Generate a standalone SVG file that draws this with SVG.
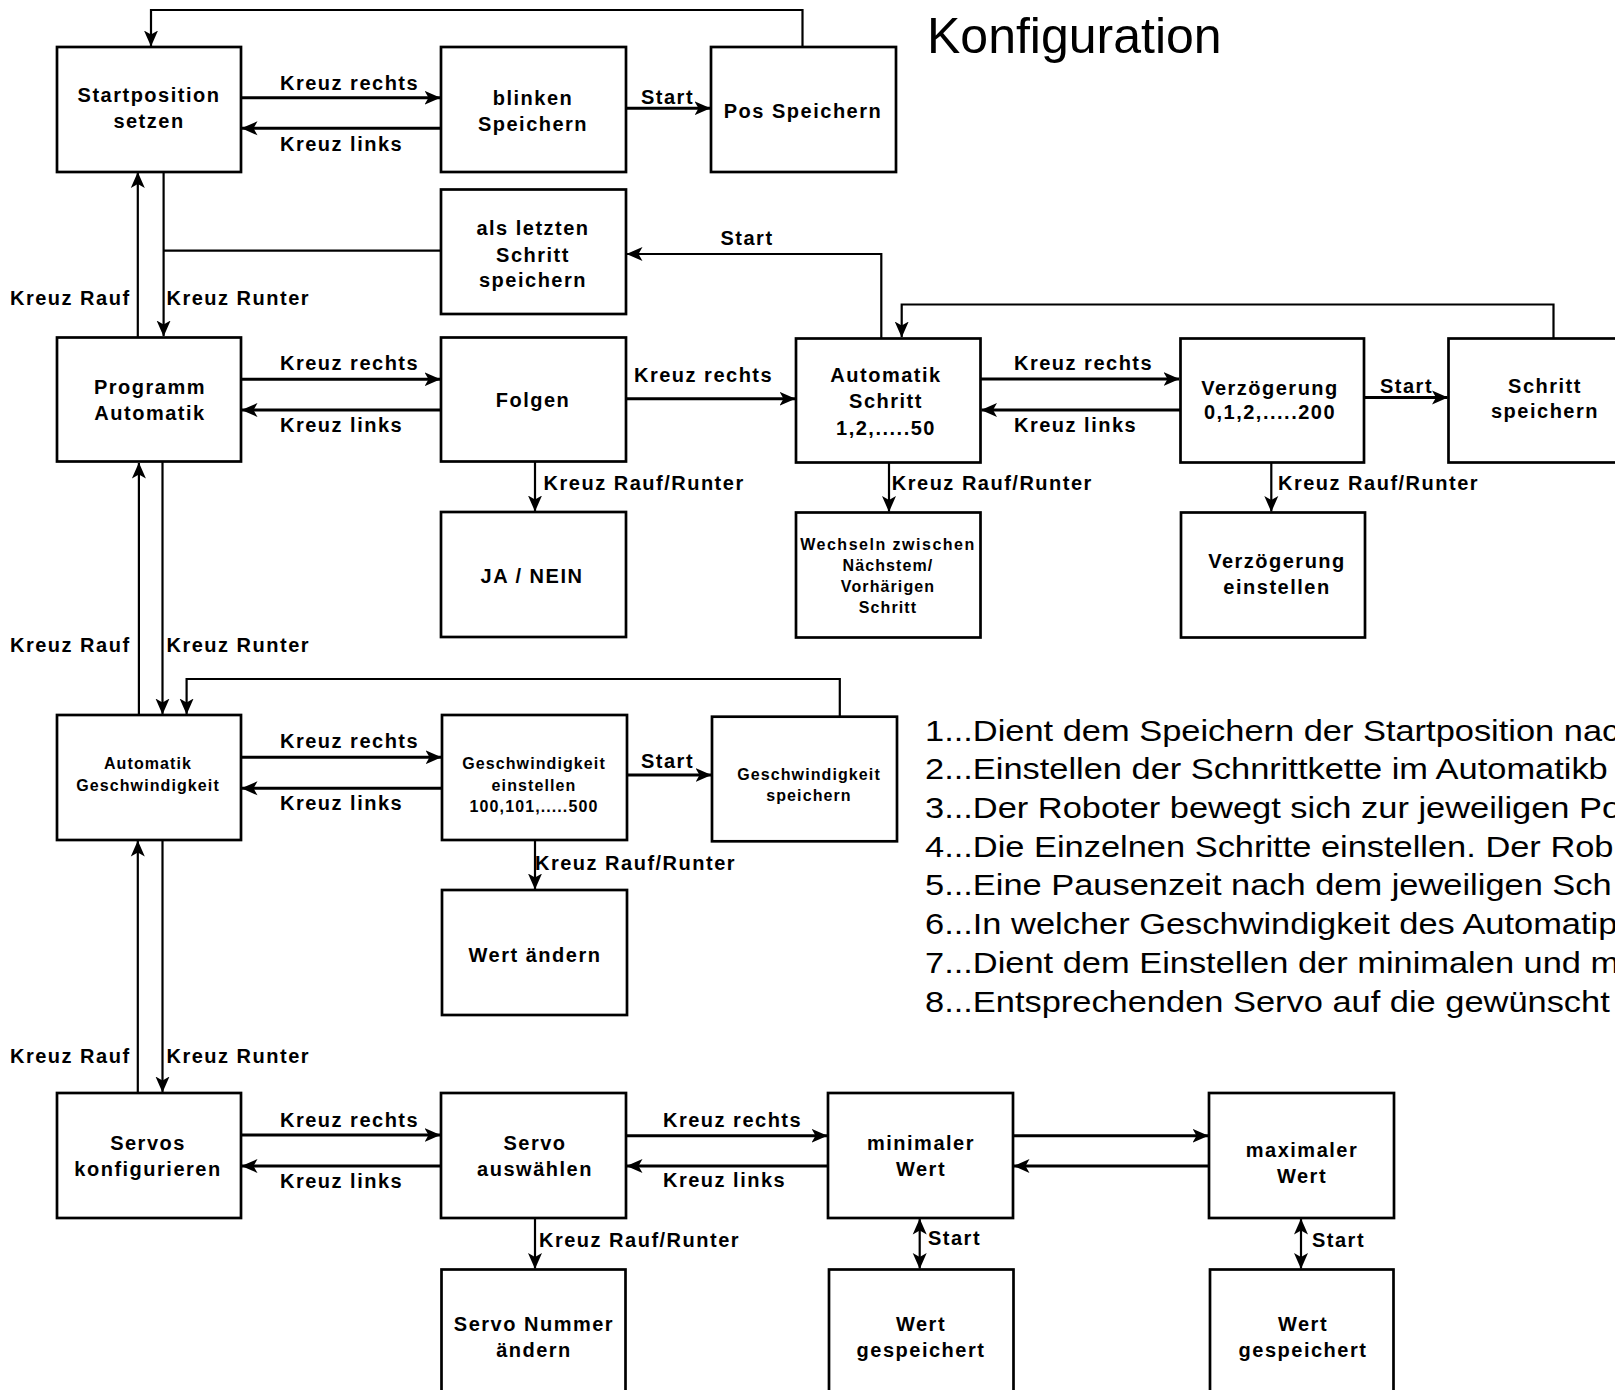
<svg xmlns="http://www.w3.org/2000/svg" width="1615" height="1390" viewBox="0 0 1615 1390">
<style>
.box{fill:#fff;stroke:#000;stroke-width:2.7}
.t{font-family:"Liberation Sans",Arial,sans-serif;font-weight:bold;font-size:20px;letter-spacing:1.5px;fill:#000}
.m{text-anchor:middle}
.s{font-size:16px;letter-spacing:1.1px}
.c{fill:none;stroke:#000;stroke-width:3}
.v{fill:none;stroke:#000;stroke-width:2.2}
.ae{marker-end:url(#ah)}
.ab{marker-start:url(#ah);marker-end:url(#ah)}
.title{font-family:"Liberation Sans",Arial,sans-serif;font-size:50px;fill:#000}
.list{font-family:"Liberation Sans",Arial,sans-serif;font-size:29px;fill:#000}
</style>
<defs>
<marker id="ah" viewBox="0 0 16 16" refX="15.5" refY="8" markerWidth="16" markerHeight="16" orient="auto-start-reverse" markerUnits="userSpaceOnUse">
<path d="M0,1 L16,8 L0,15 L4,8 z" fill="#000"/>
</marker>
</defs>
<rect width="1615" height="1390" fill="#fff"/>

<text class="title" x="927" y="53">Konfiguration</text>

<g id="connectors">
<path class="v ae" d="M802.5,47 V10 H151 V46"/>
<path class="c ae" d="M241,97.7 H440"/>
<path class="c ae" d="M441,128.3 H242"/>
<path class="c ae" d="M626,108.3 H710"/>
<path class="v" d="M441,250.7 H163.6"/>
<path class="v ae" d="M881.3,338 V254 H627"/>
<path class="v ae" d="M137.8,337 V172.5"/>
<path class="v ae" d="M163.6,172 V336"/>
<path class="c ae" d="M241,379.3 H440"/>
<path class="c ae" d="M441,410 H242"/>
<path class="c ae" d="M626,398.7 H795"/>
<path class="v ae" d="M535,462 V511"/>
<path class="v ae" d="M1553.5,338 V304.5 H901.7 V337"/>
<path class="c ae" d="M980.5,379 H1179"/>
<path class="c ae" d="M1180.5,410 H981.5"/>
<path class="c ae" d="M1364,397.5 H1447.5"/>
<path class="v ae" d="M889,462.5 V511.5"/>
<path class="v ae" d="M1271.3,462.5 V511.5"/>
<path class="v ae" d="M138.9,715 V463"/>
<path class="v ae" d="M162.5,462 V714"/>
<path class="v ae" d="M839.8,716.7 V679 H186.6 V714"/>
<path class="c ae" d="M241,757.3 H441"/>
<path class="c ae" d="M442,788.3 H242"/>
<path class="c ae" d="M627,775 H711"/>
<path class="v ae" d="M535,840 V889"/>
<path class="v ae" d="M137.8,1093 V841"/>
<path class="v ae" d="M162.5,840 V1092"/>
<path class="c ae" d="M241,1135 H440"/>
<path class="c ae" d="M441,1166 H242"/>
<path class="c ae" d="M626,1135.7 H827"/>
<path class="c ae" d="M828,1166 H627"/>
<path class="c ae" d="M1013,1135.7 H1208"/>
<path class="c ae" d="M1209,1166 H1014"/>
<path class="v ae" d="M535,1218.5 V1268.5"/>
<path class="v ab" d="M919.7,1219 V1268.5"/>
<path class="v ab" d="M1301,1219 V1268.5"/>
</g>

<g id="edge-labels" class="t">
<text x="280" y="90">Kreuz rechts</text>
<text x="280" y="151">Kreuz links</text>
<text x="641" y="104">Start</text>
<text x="720.5" y="245">Start</text>
<text x="10" y="305">Kreuz Rauf</text>
<text x="166.5" y="305">Kreuz Runter</text>
<text x="280" y="370">Kreuz rechts</text>
<text x="280" y="431.7">Kreuz links</text>
<text x="634" y="381.7">Kreuz rechts</text>
<text x="543.6" y="489.5">Kreuz Rauf/Runter</text>
<text x="1014" y="370">Kreuz rechts</text>
<text x="1014" y="431.7">Kreuz links</text>
<text x="1380" y="392.7">Start</text>
<text x="891.8" y="490">Kreuz Rauf/Runter</text>
<text x="1278" y="490">Kreuz Rauf/Runter</text>
<text x="10" y="651.7">Kreuz Rauf</text>
<text x="166.5" y="651.7">Kreuz Runter</text>
<text x="280" y="748.3">Kreuz rechts</text>
<text x="280" y="810">Kreuz links</text>
<text x="641" y="768.3">Start</text>
<text x="535" y="870">Kreuz Rauf/Runter</text>
<text x="10" y="1063.3">Kreuz Rauf</text>
<text x="166.5" y="1063.3">Kreuz Runter</text>
<text x="280" y="1127.3">Kreuz rechts</text>
<text x="280" y="1188.3">Kreuz links</text>
<text x="663" y="1126.7">Kreuz rechts</text>
<text x="663" y="1186.7">Kreuz links</text>
<text x="539" y="1247.3">Kreuz Rauf/Runter</text>
<text x="928" y="1245">Start</text>
<text x="1312" y="1246.7">Start</text>
</g>

<g id="n_startpos"><rect class="box" x="57" y="47" width="184" height="125"/><text class="t m" x="149" y="101.7">Startposition</text><text class="t m" x="149" y="128.3">setzen</text></g>
<g id="n_blinken"><rect class="box" x="441" y="47" width="185" height="125"/><text class="t m" x="533" y="105">blinken</text><text class="t m" x="533" y="130.7">Speichern</text></g>
<g id="n_pos"><rect class="box" x="711" y="47" width="185" height="125"/><text class="t m" x="803" y="118.3">Pos Speichern</text></g>
<g id="n_letzten"><rect class="box" x="441" y="189.5" width="185" height="124.5"/><text class="t m" x="533" y="235">als letzten</text><text class="t m" x="533" y="261.7">Schritt</text><text class="t m" x="533" y="287.3">speichern</text></g>
<g id="n_prog"><rect class="box" x="57" y="337.5" width="184" height="124"/><text class="t m" x="150" y="394">Programm</text><text class="t m" x="150" y="420">Automatik</text></g>
<g id="n_folgen"><rect class="box" x="441" y="337.5" width="185" height="124"/><text class="t m" x="533" y="406.7">Folgen</text></g>
<g id="n_autoschritt"><rect class="box" x="796" y="338.5" width="184.5" height="124"/><text class="t m" x="886" y="381.7">Automatik</text><text class="t m" x="886" y="408.3">Schritt</text><text class="t m" x="886" y="435">1,2,.....50</text></g>
<g id="n_verz"><rect class="box" x="1180.5" y="338.5" width="183.5" height="124"/><text class="t m" x="1270" y="395">Verzögerung</text><text class="t m" x="1270" y="419.3">0,1,2,.....200</text></g>
<g id="n_schrittsp"><rect class="box" x="1448.5" y="338.5" width="185" height="124"/><text class="t m" x="1545" y="393.3">Schritt</text><text class="t m" x="1545" y="418.3">speichern</text></g>
<g id="n_janein"><rect class="box" x="441" y="512" width="185" height="125"/><text class="t m" x="532" y="582.7">JA / NEIN</text></g>
<g id="n_wechseln"><rect class="box" x="796" y="512.5" width="184.5" height="125"/><text class="t m s" x="888" y="550" style="letter-spacing:1.5px">Wechseln zwischen</text><text class="t m s" x="888" y="570.5">Nächstem/</text><text class="t m s" x="888" y="591.5">Vorhärigen</text><text class="t m s" x="888" y="612.5">Schritt</text></g>
<g id="n_verzein"><rect class="box" x="1181" y="512.5" width="184" height="125"/><text class="t m" x="1277" y="568.3">Verzögerung</text><text class="t m" x="1277" y="594.3">einstellen</text></g>
<g id="n_autogesch"><rect class="box" x="57" y="715" width="184" height="125"/><text class="t m s" x="148" y="769.3">Automatik</text><text class="t m s" x="148" y="790.7">Geschwindigkeit</text></g>
<g id="n_geschein"><rect class="box" x="442" y="715" width="185" height="125"/><text class="t m s" x="534" y="769.3">Geschwindigkeit</text><text class="t m s" x="534" y="790.7">einstellen</text><text class="t m s" x="534" y="811.7">100,101,.....500</text></g>
<g id="n_geschsp"><rect class="box" x="712" y="716.7" width="185" height="124.6"/><text class="t m s" x="809" y="780">Geschwindigkeit</text><text class="t m s" x="809" y="800.7">speichern</text></g>
<g id="n_wertaend"><rect class="box" x="442" y="890" width="185" height="125"/><text class="t m" x="535" y="961.7">Wert ändern</text></g>
<g id="n_servos"><rect class="box" x="57" y="1093" width="184" height="125"/><text class="t m" x="148" y="1150">Servos</text><text class="t m" x="148" y="1176">konfigurieren</text></g>
<g id="n_servoaus"><rect class="box" x="441" y="1093" width="185" height="125"/><text class="t m" x="535" y="1150">Servo</text><text class="t m" x="535" y="1176">auswählen</text></g>
<g id="n_min"><rect class="box" x="828" y="1093" width="185" height="125"/><text class="t m" x="921" y="1150">minimaler</text><text class="t m" x="921" y="1176">Wert</text></g>
<g id="n_max"><rect class="box" x="1209" y="1093" width="185" height="125"/><text class="t m" x="1302" y="1156.7">maximaler</text><text class="t m" x="1302" y="1182.7">Wert</text></g>
<g id="n_servonr"><rect class="box" x="441.5" y="1269.5" width="184" height="130"/><text class="t m" x="534" y="1331">Servo Nummer</text><text class="t m" x="534" y="1356.7">ändern</text></g>
<g id="n_wg1"><rect class="box" x="829" y="1269.5" width="184.5" height="130"/><text class="t m" x="921" y="1331">Wert</text><text class="t m" x="921" y="1356.7">gespeichert</text></g>
<g id="n_wg2"><rect class="box" x="1210" y="1269.5" width="183.5" height="130"/><text class="t m" x="1303" y="1331">Wert</text><text class="t m" x="1303" y="1356.7">gespeichert</text></g>

<g id="notes" class="list" transform="translate(925,0) scale(1.187,1)">
<text x="0" y="740.7">1...Dient dem Speichern der Startposition nac</text>
<text x="0" y="779.4">2...Einstellen der Schnrittkette im Automatikb</text>
<text x="0" y="818.1">3...Der Roboter bewegt sich zur jeweiligen Po</text>
<text x="0" y="856.8">4...Die Einzelnen Schritte einstellen. Der Rob</text>
<text x="0" y="895.5">5...Eine Pausenzeit nach dem jeweiligen Sch</text>
<text x="0" y="934.2">6...In welcher Geschwindigkeit des Automatip</text>
<text x="0" y="972.9">7...Dient dem Einstellen der minimalen und m</text>
<text x="0" y="1011.6">8...Entsprechenden Servo auf die gewünscht</text>
</g>
</svg>
